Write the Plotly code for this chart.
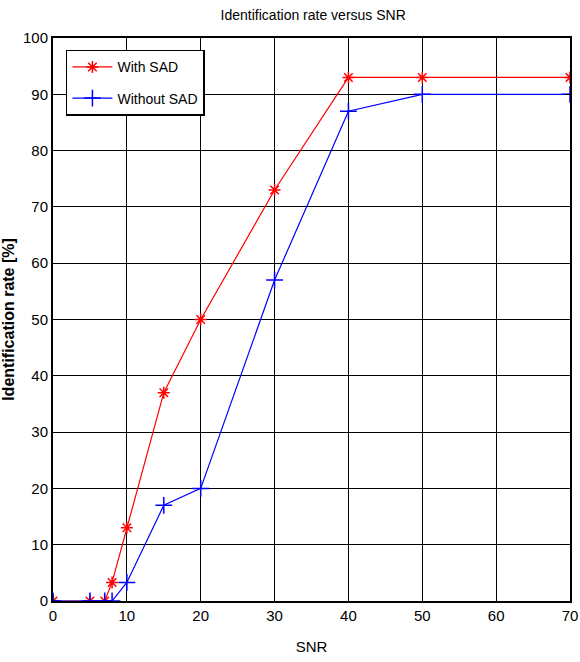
import plotly.graph_objects as go

snr = [0, 5, 7, 8, 10, 15, 20, 30, 40, 50, 70]
with_sad = [0, 0, 0, 3.3, 13, 37, 50, 73, 93, 93, 93]
without_sad = [0, 0, 0, 0, 3.3, 17, 20, 57, 87, 90, 90]

x_ticks = [0, 10, 20, 30, 40, 50, 60, 70]
y_ticks = [0, 10, 20, 30, 40, 50, 60, 70, 80, 90, 100]

FONT = "Liberation Sans Narrow, Arial Narrow, Liberation Sans, Arial"

fig = go.Figure()
fig.add_trace(go.Scatter(
    x=snr, y=with_sad, name="With SAD", mode="lines+markers", legendgroup="a",
    line=dict(color="red", width=1.2),
    marker=dict(symbol="asterisk-open", size=10, color="red",
                line=dict(color="red", width=1.5)),
))
fig.add_trace(go.Scatter(
    x=snr, y=without_sad, name="Without SAD", mode="lines+markers", legendgroup="b",
    line=dict(color="blue", width=1.2),
    marker=dict(symbol="cross-thin-open", size=12, color="blue",
                line=dict(color="blue", width=1.5)),
))

axis_common = dict(
    showline=True, linecolor="black", linewidth=2, mirror="ticks",
    ticks="inside", ticklen=5, tickcolor="black",
    showgrid=True, gridcolor="black", gridwidth=1,
    zeroline=False, ticklabeloverflow="allow", automargin=False,
    tickfont=dict(family=FONT, size=15, color="black"),
)

fig.update_layout(
    width=580, height=662,
    margin=dict(l=53, r=10, t=38, b=61),
    paper_bgcolor="white", plot_bgcolor="white",
    title=dict(text="Identification rate versus SNR", x=0.54, xanchor="center",
               y=0.977, yanchor="middle",
               font=dict(family=FONT, size=14, color="black")),
    xaxis=dict(range=[0, 70], tickvals=x_ticks,
               title=dict(text="SNR", font=dict(family=FONT, size=15, color="black"), standoff=18),
               **axis_common),
    yaxis=dict(range=[0, 100], tickvals=y_ticks,
               title=dict(text="<b>Identification rate [%]</b>",
                          font=dict(family="Liberation Sans, Arial", size=16, color="black"), standoff=6),
               **axis_common),
    legend=dict(x=0.025, y=0.979, xanchor="left", yanchor="top",
                bgcolor="white", bordercolor="black", borderwidth=1.5,
                font=dict(family=FONT, size=14, color="black"),
                itemwidth=40, tracegroupgap=10),
    showlegend=True,
)

fig.write_html("out.html")
